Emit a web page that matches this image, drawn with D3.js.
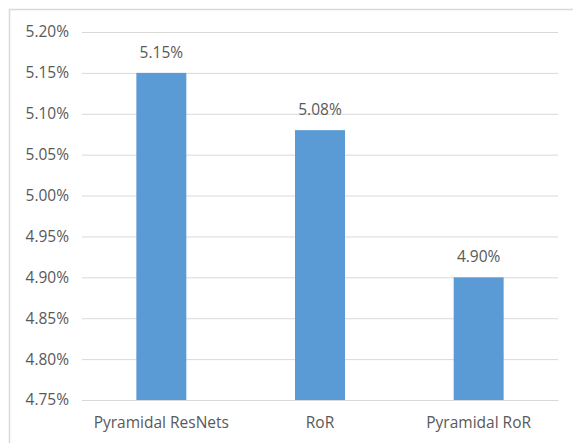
<!DOCTYPE html>
<html><head><meta charset="utf-8">
<script src="https://cdn.jsdelivr.net/npm/d3@7"></script>
<style>
html,body{margin:0;padding:0;background:#fff;}
svg{display:block;}
text{font-family:"Open Sans","Liberation Sans",Arial,sans-serif;fill:#595959;}
</style></head>
<body><svg id="c" width="573" height="443"></svg>
<script>
const categories = ["Pyramidal ResNets", "RoR", "Pyramidal RoR"];
const values = [5.15, 5.08, 4.90];
const yTicks = [4.75, 4.80, 4.85, 4.90, 4.95, 5.00, 5.05, 5.10, 5.15, 5.20];

const svg = d3.select("#c");
const m = {left: 82, right: 558, top: 32, bottom: 400};
const fs = 15.5;

// outer frame
svg.append("rect").attr("x", 9.5).attr("y", 9.5).attr("width", 600).attr("height", 500)
  .attr("fill", "#fff").attr("stroke", "#d9d9d9").attr("stroke-width", 1.5);

const x = d3.scaleBand().domain(categories).range([m.left, m.right]).padding(0);
const y = d3.scaleLinear().domain([4.75, 5.20]).range([m.bottom, m.top]);

// gridlines
const yAxis = d3.axisLeft(y).tickValues(yTicks).tickSize(-(m.right - m.left)).tickPadding(13)
  .tickFormat(d => d.toFixed(2) + "%");
const gy = svg.append("g").attr("transform", `translate(${m.left},0)`).call(yAxis);
gy.select(".domain").remove();
gy.selectAll(".tick line").attr("stroke", "#d9d9d9").attr("stroke-width", 1);
gy.selectAll(".tick text").attr("font-size", fs).attr("font-family", null).style("fill", "#595959");

const barW = x.bandwidth() * 0.315;
svg.append("g").selectAll("rect").data(values).join("rect")
  .attr("x", (d, i) => x(categories[i]) + x.bandwidth() / 2 - barW / 2)
  .attr("y", d => y(d))
  .attr("width", barW)
  .attr("height", d => y(4.75) - y(d))
  .attr("fill", "#5b9bd5");

svg.append("g").selectAll("text").data(values).join("text")
  .attr("x", (d, i) => x(categories[i]) + x.bandwidth() / 2)
  .attr("y", d => y(d) - 15)
  .attr("text-anchor", "middle").attr("font-size", fs)
  .text(d => d.toFixed(2) + "%");

const xAxis = d3.axisBottom(x).tickSize(0).tickPadding(17);
const gx = svg.append("g").attr("transform", `translate(0,${m.bottom})`).call(xAxis);
gx.select(".domain").attr("stroke", "#d9d9d9");
gx.selectAll(".tick text").attr("font-size", fs).attr("font-family", null).style("fill", "#595959");
</script></body></html>
